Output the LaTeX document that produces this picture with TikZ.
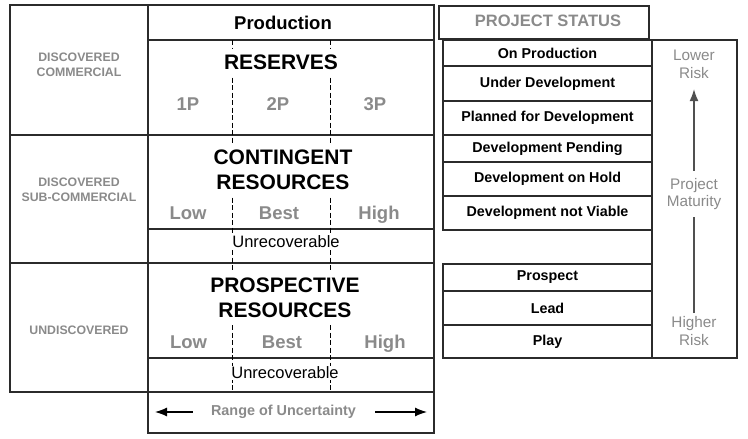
\documentclass[tikz,border=0pt]{standalone}
\usepackage{fontspec}
\setmainfont{Liberation Sans}
\usetikzlibrary{positioning,arrows.meta}
\definecolor{inkgray}{HTML}{8A8A8A}
\definecolor{rulegray}{HTML}{2B2B2B}
\definecolor{arrowgray}{HTML}{505050}

\begin{document}
\begin{tikzpicture}[x=1pt,y=-1pt,node distance=0pt,
  cell/.style={draw=rulegray,line width=1.2pt,outer sep=0pt,inner sep=0pt},
  classlbl/.style={align=center,text=inkgray,font=\bfseries\fontsize{12.3}{15}\selectfont},
  head/.style={fill=white,inner sep=6pt,align=center,font=\bfseries\fontsize{21}{25}\selectfont},
  est/.style={anchor=base,text=inkgray,font=\bfseries\fontsize{18.5}{22}\selectfont},
  unrec/.style={fill=white,inner sep=1pt,font=\fontsize{16.5}{20}\selectfont},
  status/.style={cell,minimum width=209pt,font=\bfseries\fontsize{14.3}{17}\selectfont},
  risklbl/.style={text=inkgray,align=center,font=\fontsize{15.3}{17.5}\selectfont},
  divider/.style={line width=0.9pt,dash pattern=on 5pt off 2.5pt},
  >={Latex[length=12pt,width=9pt]}]
\useasboundingbox (0,0) rectangle (748,439);

% left column
\node[cell,minimum width=138pt,minimum height=130pt] (comm) at (79,70) {};
\node[cell,minimum width=138pt,minimum height=128pt] (subcomm) at (79,199) {};
\node[cell,minimum width=138pt,minimum height=129pt] (undisc) at (79,327.5) {};
\node[classlbl] (commlbl) at (79,65) {DISCOVERED\\COMMERCIAL};
\node[classlbl] (subcommlbl) at (79,190) {DISCOVERED\\SUB-COMMERCIAL};
\node[classlbl] (undisclbl) at (79,330) {UNDISCOVERED};

% middle column
\node[cell,minimum width=286pt,minimum height=35pt] (prod) at (291,22.5) {};
\node[cell,minimum width=286pt,minimum height=95pt] (reserves) at (291,87.5) {};
\node[cell,minimum width=286pt,minimum height=94pt] (contingent) at (291,182) {};
\node[cell,minimum width=286pt,minimum height=34pt] (unrecA) at (291,246) {};
\node[cell,minimum width=286pt,minimum height=95pt] (prospective) at (291,310.5) {};
\node[cell,minimum width=286pt,minimum height=34pt] (unrecB) at (291,375) {};
\node[cell,minimum width=286pt,minimum height=41pt] (rangebox) at (291,412.5) {};
\node[font=\bfseries\fontsize{18.5}{22}\selectfont] (prodlbl) at (283,22.5) {Production};

\draw[divider] ([xshift=84pt]reserves.north west) -- ([xshift=84pt]unrecB.south west);
\draw[divider] ([xshift=182pt]reserves.north west) -- ([xshift=182pt]unrecB.south west);

\node[head] (reslbl) at (281,62.5) {RESERVES};
\node[est] (p1) at (188,110) {1P};
\node[est] (p2) at (278,110) {2P};
\node[est] (p3) at (375,110) {3P};

\node[head] (contlbl) at (283,170) {CONTINGENT\\RESOURCES};
\node[est] (clow) at (188,219) {Low};
\node[est] (cbest) at (279,219) {Best};
\node[est] (chigh) at (379,219) {High};
\node[unrec] (unrecAlbl) at (286,242) {Unrecoverable};

\node[head] (proslbl) at (285,297.5) {PROSPECTIVE\\RESOURCES};
\node[est] (plow) at (188.5,348) {Low};
\node[est] (pbest) at (282,348) {Best};
\node[est] (phigh) at (385,348) {High};
\node[unrec] (unrecBlbl) at (285,373) {Unrecoverable};

\node[inner sep=0pt,text=inkgray,font=\bfseries\fontsize{14.4}{17}\selectfont] (range) at (283.5,412) {Range of Uncertainty};
\draw[->,line width=1.2pt,shorten >=7pt] ([xshift=-18pt]range.west) -- (range.west -| rangebox.west);
\draw[->,line width=1.2pt,shorten >=7pt] ([xshift=19pt]range.east) -- (range.east -| rangebox.east);

% project status
\node[cell,minimum width=210pt,minimum height=33pt] (pstatus) at (544,22.5) {};
\node[text=inkgray,font=\bfseries\fontsize{16.5}{20}\selectfont] (pstatuslbl) at (548,21) {PROJECT STATUS};
\node[status,minimum height=26pt] (onprod) at (547.5,53) {On Production};
\node[status,minimum height=35pt,below=of onprod] (underdev) {Under Development};
\node[status,minimum height=34pt,below=of underdev] (planned) {Planned for Development};
\node[status,minimum height=27pt,below=of planned] (pending) {Development Pending};
\node[status,minimum height=34pt,below=of pending] (onhold) {Development on Hold};
\node[status,minimum height=34pt,below=of onhold] (notviable) {Development not Viable};
\node[status,minimum height=27pt,below=34pt of notviable] (prospect) {Prospect};
\node[status,minimum height=34pt,below=of prospect] (lead) {Lead};
\node[status,minimum height=33pt,below=of lead] (play) {Play};

% risk
\node[cell,minimum width=85pt,minimum height=318pt] (riskcol) at (694.5,199) {};
\node[risklbl] (lower) at (694,64.5) {Lower\\Risk};
\node[risklbl] (higher) at (694,331) {Higher\\Risk};
\draw[->,arrowgray,line width=1.3pt,shorten >=7pt] (higher) -- (lower);
\node[risklbl,fill=white,inner sep=7pt] (maturity) at (694,194) {Project\\Maturity};
\end{tikzpicture}
\end{document}
